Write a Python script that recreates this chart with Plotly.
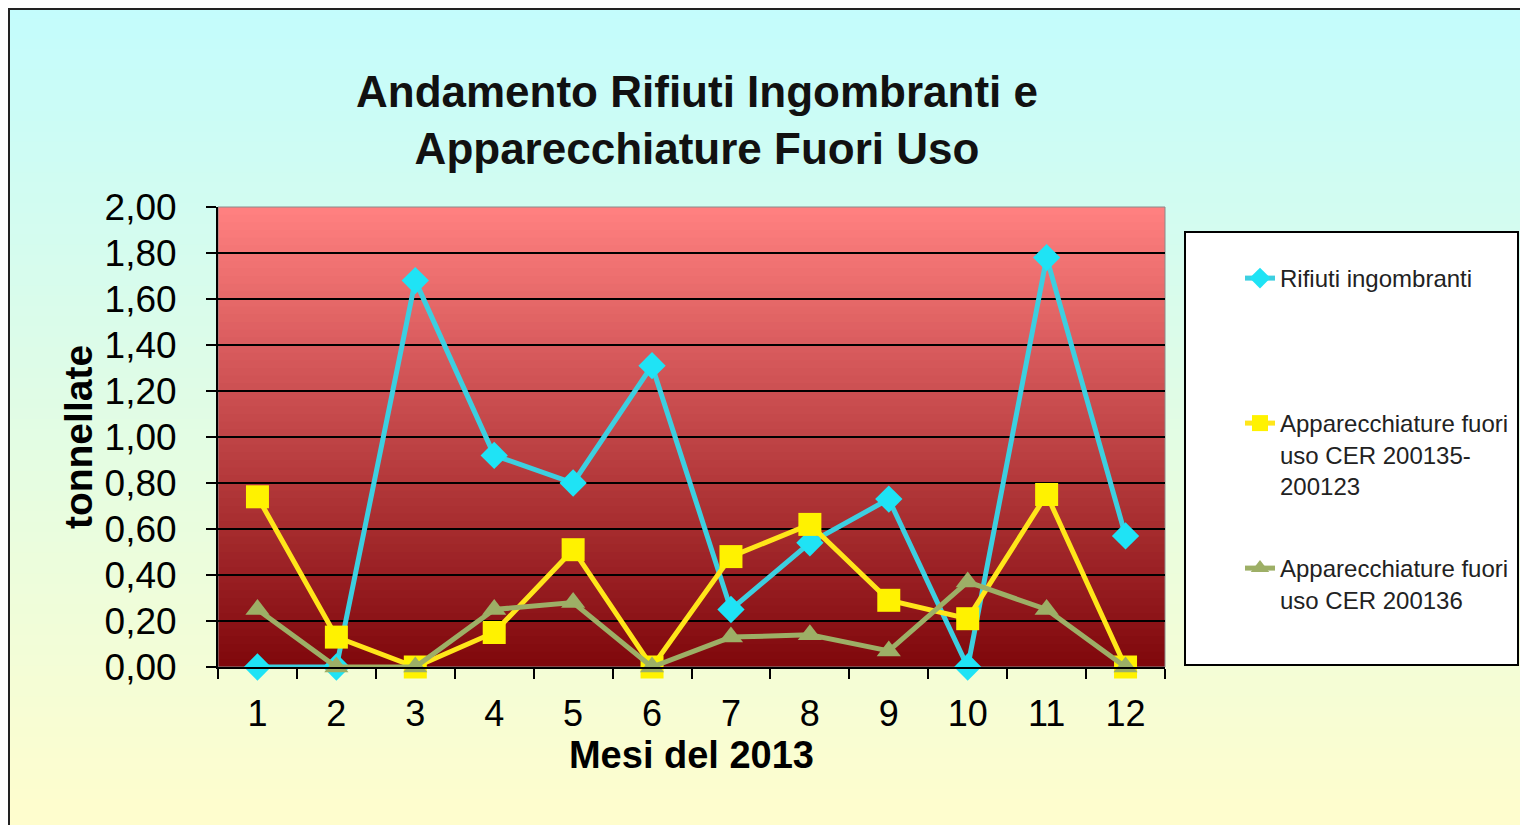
import plotly.graph_objects as go

# --- Dati ---
mesi = ["1", "2", "3", "4", "5", "6", "7", "8", "9", "10", "11", "12"]
rifiuti_ingombranti = [0.00, 0.00, 1.68, 0.92, 0.80, 1.31, 0.25, 0.54, 0.73, 0.00, 1.78, 0.57]
apparecchiature_135_123 = [0.74, 0.13, 0.00, 0.15, 0.51, 0.00, 0.48, 0.62, 0.29, 0.21, 0.75, 0.00]
apparecchiature_136 = [0.25, 0.00, 0.00, 0.25, 0.28, 0.00, 0.13, 0.14, 0.07, 0.37, 0.25, 0.00]

nomi = [
    "Rifiuti ingombranti",
    "Apparecchiature fuori<br>uso CER 200135-<br>200123",
    "Apparecchiature fuori<br>uso CER 200136",
]

FONT = "Liberation Sans, Arial, sans-serif"

W, H = 1520, 825
# area del grafico in pixel
L, R, T, B = 218, 1165, 207, 667


def px(x):
    return (x - L) / (R - L)


def py(y):
    return (B - y) / (B - T)


def mix(c1, c2, t):
    return "rgb(%d,%d,%d)" % tuple(round(a + (b - a) * t) for a, b in zip(c1, c2))


fig = go.Figure()

# --- Serie ---
fig.add_trace(go.Scatter(
    x=mesi, y=rifiuti_ingombranti, name=nomi[0], mode="lines+markers",
    line=dict(color="#3DCFE0", width=5),
    marker=dict(symbol="diamond", size=21, color="#1FE3F5"),
    cliponaxis=False, legend="legend",
))
fig.add_trace(go.Scatter(
    x=mesi, y=apparecchiature_135_123, name=nomi[1], mode="lines+markers",
    line=dict(color="#FFE61A", width=5),
    marker=dict(symbol="square", size=23, color="#FFF200"),
    cliponaxis=False, legend="legend2",
))
fig.add_trace(go.Scatter(
    x=mesi, y=apparecchiature_136, name=nomi[2], mode="lines+markers",
    line=dict(color="#9DAF66", width=5),
    marker=dict(symbol="triangle-up", size=21, color="#9DAF66"),
    cliponaxis=False, legend="legend3",
))

# --- Sfondi sfumati ---
shapes = []
n = 80
top, bot = 8, 830
for i in range(n):
    y0 = top + (bot - top) * i / n
    y1 = top + (bot - top) * (i + 1) / n
    shapes.append(dict(
        type="rect", xref="paper", yref="paper", layer="below",
        x0=px(10), x1=px(1530), y0=py(y0), y1=py(y1 + 1),
        fillcolor=mix((196, 252, 252), (255, 253, 205), i / (n - 1)),
        line=dict(width=0),
    ))
n2 = 60
for i in range(n2):
    shapes.append(dict(
        type="rect", xref="x domain", yref="y domain", layer="below",
        x0=0, x1=1, y0=1 - (i + 1) / n2 - 0.002, y1=1 - i / n2,
        fillcolor=mix((255, 128, 128), (128, 8, 12), i / (n2 - 1)),
        line=dict(width=0),
    ))
# bordo area grafico
shapes.append(dict(
    type="rect", xref="x domain", yref="y domain", layer="below",
    x0=0, x1=1, y0=0, y1=1, line=dict(color="#8a8a8a", width=1),
))
# riquadro legenda
shapes.append(dict(
    type="rect", xref="paper", yref="paper", layer="below",
    x0=px(1185), x1=px(1518), y0=py(665), y1=py(232),
    fillcolor="white", line=dict(color="black", width=2),
))
# bordo esterno
shapes.append(dict(
    type="rect", xref="paper", yref="paper", layer="below",
    x0=px(9), x1=px(1540), y0=py(845), y1=py(9),
    line=dict(color="#222", width=2),
))

leg_common = dict(
    xref="paper", yref="paper", xanchor="left", yanchor="top",
    bgcolor="rgba(0,0,0,0)", borderwidth=0, valign="top",
    font=dict(family=FONT, size=24, color="#222"),
)

fig.update_layout(
    width=W, height=H,
    margin=dict(l=L, r=W - R, t=T, b=H - B, autoexpand=False),
    paper_bgcolor="white",
    plot_bgcolor="rgba(0,0,0,0)",
    separators=",.",
    showlegend=True,
    font=dict(family=FONT, color="black"),
    title=dict(
        text="<b>Andamento Rifiuti Ingombranti e<br>Apparecchiature Fuori Uso</b>",
        x=px(697), xanchor="center", xref="paper",
        y=1 - 107 / H, yanchor="top", yref="container",
        font=dict(family=FONT, size=44, color="#111"),
    ),
    xaxis=dict(
        type="category", range=[-0.5, 11.5],
        showgrid=False, showline=True, linecolor="black", linewidth=2,
        ticks="outside", ticklen=10, tickwidth=2, tickcolor="black",
        tickson="boundaries", ticklabelstandoff=14,
        tickfont=dict(family=FONT, size=36, color="black"),
        title=dict(text="<b>Mesi del 2013</b>", standoff=7,
                   font=dict(family=FONT, size=38, color="black")),
    ),
    yaxis=dict(
        range=[0, 2], dtick=0.2, tickformat=".2f",
        showgrid=True, gridcolor="black", gridwidth=2, zeroline=False,
        showline=True, linecolor="black", linewidth=2,
        ticks="outside", ticklen=10, tickwidth=2, tickcolor="black",
        ticklabelstandoff=22,
        tickfont=dict(family=FONT, size=37, color="black"),
        title=dict(text="<b>tonnellate</b>", standoff=0,
                   font=dict(family=FONT, size=39, color="black")),
    ),
    legend=dict(x=px(1240), y=py(256), **leg_common),
    legend2=dict(x=px(1240), y=py(401), **leg_common),
    legend3=dict(x=px(1240), y=py(546), **leg_common),
    shapes=shapes,
)

# niente margine della pagina: la figura occupa tutta la finestra
fig.write_html(
    "out.html",
    config={"displayModeBar": False},
    post_script="document.body.style.margin='0';document.body.style.overflow='hidden';",
)
